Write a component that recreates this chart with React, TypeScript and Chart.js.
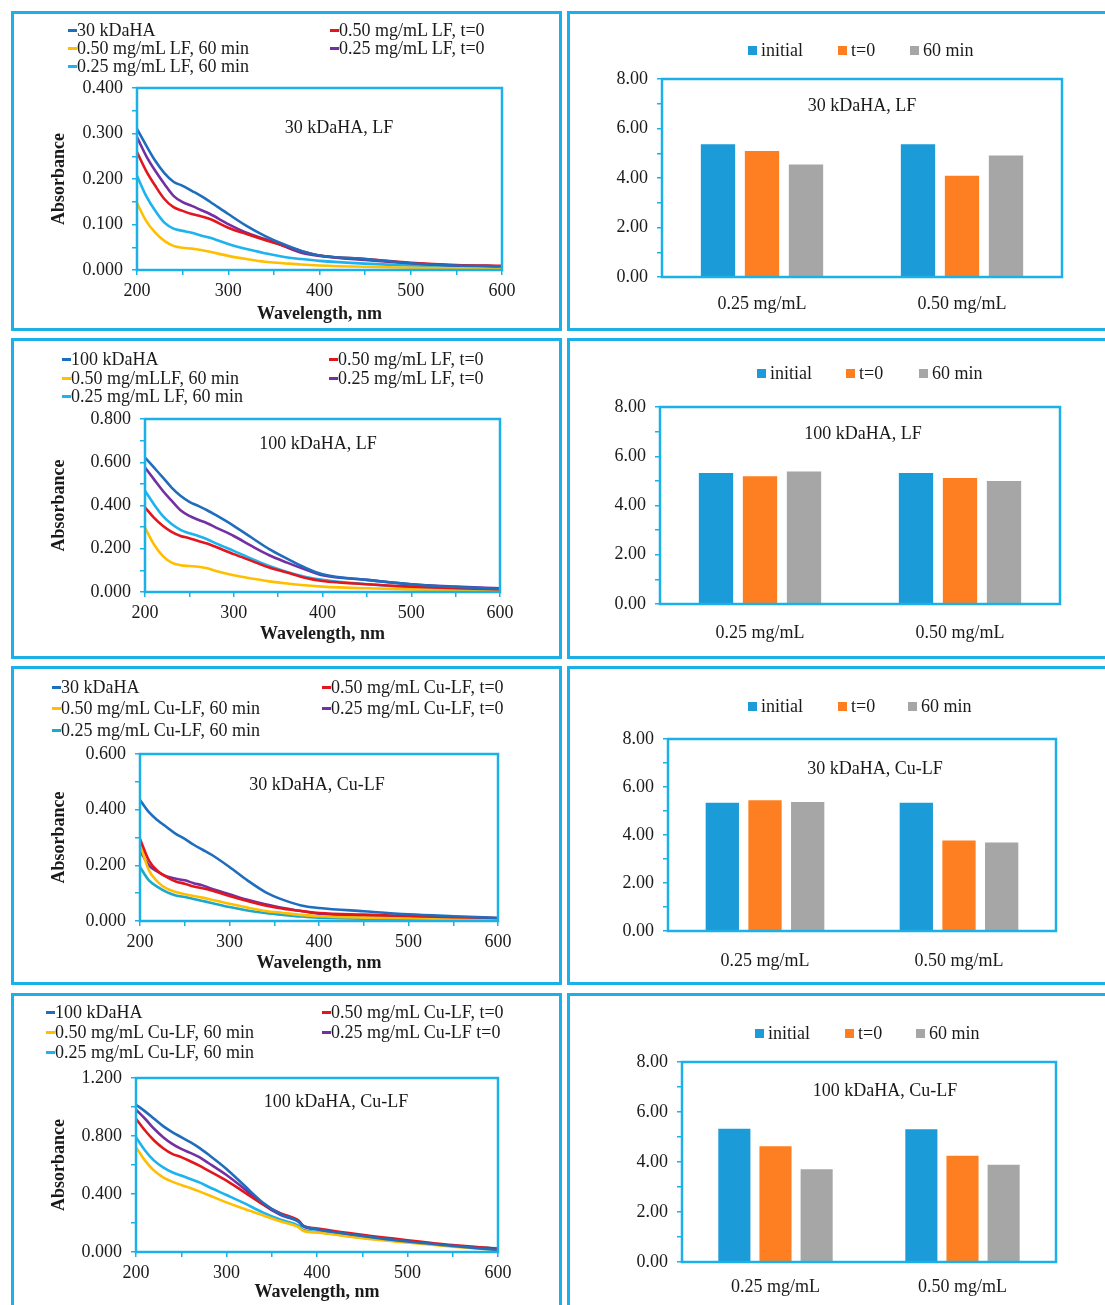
import React, { useEffect, useRef } from "react";
import { Chart, registerables } from "chart.js";

Chart.register(...registerables);

const FONT = "'Liberation Serif', 'Times New Roman', serif";
const FONT_SIZE = 18;
const FRAME = "#1cb0e8";
const TEXT = "#1a1a1a";

// ---- line colours ----
const C_HA = "#1f6dbd";
const C_RED = "#e3151d";
const C_YEL = "#ffbf00";
const C_PUR = "#7330a2";
const C_LBL = "#1db3ee";
const C_TEAL = "#1aa9c9";

// ---- bar colours ----
const C_INITIAL = "#1b9bd7";
const C_T0 = "#fe7f21";
const C_60 = "#a6a6a6";

// ---- wavelengths, nm ----
const wavelengths = [200, 210, 220, 230, 240, 250, 260, 270, 280, 300, 320, 340, 360, 380, 400, 450, 500, 550, 600];
const wavelengthsCu100 = [200, 210, 220, 230, 240, 250, 260, 270, 280, 300, 320, 340, 360, 380, 385, 400, 450, 500, 550, 600];

// ---- 30 kDaHA with LF ----
const ha30 = [0.310, 0.274, 0.240, 0.213, 0.194, 0.185, 0.174, 0.163, 0.150, 0.123, 0.097, 0.075, 0.057, 0.042, 0.032, 0.024, 0.015, 0.010, 0.008];
const lf050t0_30 = [0.259, 0.218, 0.185, 0.156, 0.138, 0.130, 0.123, 0.118, 0.112, 0.093, 0.079, 0.066, 0.054, 0.042, 0.032, 0.024, 0.016, 0.011, 0.009];
const lf050m60_30 = [0.147, 0.108, 0.082, 0.064, 0.053, 0.049, 0.047, 0.044, 0.040, 0.031, 0.024, 0.018, 0.015, 0.012, 0.010, 0.007, 0.005, 0.004, 0.003];
const lf025t0_30 = [0.292, 0.251, 0.218, 0.189, 0.163, 0.149, 0.141, 0.132, 0.123, 0.101, 0.082, 0.068, 0.053, 0.038, 0.031, 0.022, 0.015, 0.010, 0.008];
const lf025m60_30 = [0.207, 0.163, 0.130, 0.104, 0.091, 0.086, 0.082, 0.076, 0.071, 0.057, 0.046, 0.037, 0.029, 0.024, 0.020, 0.014, 0.010, 0.008, 0.007];

// ---- 100 kDaHA with LF ----
const ha100 = [0.622, 0.576, 0.530, 0.483, 0.445, 0.417, 0.398, 0.378, 0.355, 0.306, 0.252, 0.198, 0.154, 0.113, 0.082, 0.056, 0.036, 0.023, 0.015];
const lf050t0_100 = [0.391, 0.344, 0.306, 0.278, 0.259, 0.249, 0.236, 0.224, 0.208, 0.175, 0.144, 0.113, 0.090, 0.066, 0.051, 0.036, 0.025, 0.017, 0.012];
const lf050m60_100 = [0.298, 0.221, 0.167, 0.136, 0.124, 0.120, 0.117, 0.110, 0.097, 0.077, 0.062, 0.049, 0.039, 0.031, 0.025, 0.017, 0.012, 0.009, 0.006];
const lf025t0_100 = [0.576, 0.522, 0.468, 0.422, 0.378, 0.352, 0.334, 0.318, 0.298, 0.259, 0.213, 0.170, 0.136, 0.105, 0.077, 0.056, 0.036, 0.025, 0.017];
const lf025m60_100 = [0.468, 0.406, 0.352, 0.314, 0.287, 0.272, 0.259, 0.244, 0.225, 0.190, 0.154, 0.120, 0.093, 0.071, 0.056, 0.036, 0.023, 0.015, 0.009];

// ---- 30 kDaHA with Cu-LF ----
const ha30Cu = [0.435, 0.391, 0.361, 0.337, 0.313, 0.295, 0.274, 0.256, 0.238, 0.194, 0.146, 0.104, 0.076, 0.056, 0.047, 0.035, 0.024, 0.017, 0.011];
const cu050t0_30 = [0.295, 0.217, 0.179, 0.158, 0.142, 0.134, 0.124, 0.118, 0.110, 0.090, 0.072, 0.056, 0.044, 0.036, 0.029, 0.023, 0.018, 0.014, 0.011];
const cu050m60_30 = [0.277, 0.182, 0.140, 0.116, 0.104, 0.096, 0.090, 0.084, 0.076, 0.062, 0.048, 0.036, 0.029, 0.022, 0.017, 0.012, 0.010, 0.008, 0.008];
const cu025t0_30 = [0.253, 0.200, 0.176, 0.160, 0.152, 0.146, 0.136, 0.128, 0.116, 0.096, 0.076, 0.060, 0.047, 0.036, 0.026, 0.018, 0.014, 0.011, 0.008];
const cu025m60_30 = [0.194, 0.146, 0.122, 0.104, 0.092, 0.086, 0.079, 0.072, 0.065, 0.050, 0.038, 0.029, 0.022, 0.016, 0.012, 0.008, 0.007, 0.006, 0.006];

// ---- 100 kDaHA with Cu-LF ----
const ha100Cu = [1.016, 0.970, 0.919, 0.868, 0.827, 0.792, 0.757, 0.718, 0.672, 0.573, 0.457, 0.342, 0.261, 0.208, 0.180, 0.157, 0.111, 0.072, 0.042, 0.014];
const cu050t0_100 = [0.919, 0.838, 0.769, 0.716, 0.677, 0.654, 0.626, 0.596, 0.561, 0.492, 0.411, 0.330, 0.266, 0.215, 0.180, 0.162, 0.118, 0.081, 0.048, 0.023];
const cu050m60_100 = [0.723, 0.630, 0.561, 0.515, 0.485, 0.462, 0.441, 0.418, 0.393, 0.342, 0.296, 0.254, 0.210, 0.169, 0.145, 0.134, 0.095, 0.065, 0.037, 0.014];
const cu025t0_100 = [0.982, 0.919, 0.850, 0.792, 0.746, 0.711, 0.684, 0.654, 0.614, 0.531, 0.434, 0.330, 0.254, 0.208, 0.176, 0.157, 0.111, 0.072, 0.042, 0.018];
const cu025m60_100 = [0.792, 0.700, 0.630, 0.584, 0.550, 0.527, 0.503, 0.480, 0.450, 0.393, 0.335, 0.273, 0.222, 0.180, 0.152, 0.139, 0.099, 0.069, 0.042, 0.025];

// ---- legend labels ----
const labelsLF30 = ["30 kDaHA", "0.50 mg/mL LF, t=0", "0.50 mg/mL LF, 60 min", "0.25 mg/mL LF, t=0", "0.25 mg/mL LF, 60 min"];
const labelsLF100 = ["100 kDaHA", "0.50 mg/mL LF, t=0", "0.50 mg/mLLF, 60 min", "0.25 mg/mL LF, t=0", "0.25 mg/mL LF, 60 min"];
const labelsCu30 = ["30 kDaHA", "0.50 mg/mL Cu-LF, t=0", "0.50 mg/mL Cu-LF, 60 min", "0.25 mg/mL Cu-LF, t=0", "0.25 mg/mL Cu-LF, 60 min"];
const labelsCu100 = ["100 kDaHA", "0.50 mg/mL Cu-LF, t=0", "0.50 mg/mL Cu-LF, 60 min", "0.25 mg/mL Cu-LF t=0", "0.25 mg/mL Cu-LF, 60 min"];

// ---- bar data (categories: concentration) ----
const concentrations = ["0.25 mg/mL", "0.50 mg/mL"];
const barSeriesNames = ["initial", "t=0", "60 min"];
const lf30Initial = [5.36, 5.36];
const lf30T0 = [5.09, 4.09];
const lf30M60 = [4.55, 4.91];
const lf100Initial = [5.32, 5.32];
const lf100T0 = [5.19, 5.12];
const lf100M60 = [5.38, 4.99];
const cu30Initial = [5.34, 5.34];
const cu30T0 = [5.45, 3.77];
const cu30M60 = [5.38, 3.69];
const cu100Initial = [5.33, 5.31];
const cu100T0 = [4.63, 4.25];
const cu100M60 = [3.71, 3.89];

type Box = { x: number; y: number; w: number; h: number };
type Area = { left: number; top: number; right: number; bottom: number };
type Series = { label: string; color: string; values: number[] };

const tickFont = { family: FONT, size: FONT_SIZE };
const boldFont = { family: FONT, size: FONT_SIZE, weight: "bold" as const };

const isMultiple = (v: number, step: number) => Math.abs(v / step - Math.round(v / step)) < 1e-6;

// outline around the plotting area
const plotFrame = {
  id: "plotFrame",
  afterDatasetsDraw(chart: any) {
    const { ctx, chartArea: a } = chart;
    ctx.save();
    ctx.strokeStyle = FRAME;
    ctx.lineWidth = 2.5;
    ctx.strokeRect(a.left, a.top, a.right - a.left, a.bottom - a.top);
    ctx.restore();
  },
};

function SpectraChart(props: {
  box: Box;
  area: Area;
  xs: number[];
  series: Series[];
  yMax: number;
  yMajor: number;
  yMinor: number;
  xTitlePad: number;
}) {
  const ref = useRef<HTMLCanvasElement>(null);
  const { box, area, xs, series, yMax, yMajor, yMinor, xTitlePad } = props;
  useEffect(() => {
    const chart = new Chart(ref.current!, {
      type: "line",
      data: {
        datasets: series.map((s) => ({
          label: s.label,
          data: xs.map((x, i) => ({ x, y: s.values[i] })),
          borderColor: s.color,
          backgroundColor: s.color,
          borderWidth: 2.6,
          pointRadius: 0,
          cubicInterpolationMode: "monotone" as const,
          fill: false,
        })),
      },
      options: {
        animation: false,
        responsive: false,
        maintainAspectRatio: false,
        events: [],
        layout: { padding: { left: 0, top: area.top - box.y, right: box.x + box.w - area.right, bottom: 0 } },
        plugins: { legend: { display: false }, tooltip: { enabled: false }, title: { display: false } },
        scales: {
          x: {
            type: "linear",
            min: 200,
            max: 600,
            afterFit: (s: any) => {
              s.height = box.y + box.h - area.bottom;
            },
            ticks: {
              stepSize: 50,
              autoSkip: false,
              maxRotation: 0,
              padding: 5,
              font: tickFont,
              color: TEXT,
              callback: (v: any) => (Number(v) % 100 === 0 ? String(v) : ""),
            },
            grid: { drawOnChartArea: false, drawTicks: true, tickLength: 5, color: FRAME, lineWidth: 1.5 },
            border: { display: false },
            title: { display: true, text: "Wavelength, nm", font: boldFont, color: TEXT, padding: { top: 0, bottom: xTitlePad } },
          },
          y: {
            type: "linear",
            min: 0,
            max: yMax,
            afterFit: (s: any) => {
              s.width = area.left - box.x;
            },
            ticks: {
              stepSize: yMinor,
              autoSkip: false,
              padding: 9,
              font: tickFont,
              color: TEXT,
              callback: (v: any) => (isMultiple(Number(v), yMajor) ? Number(v).toFixed(3) : ""),
            },
            grid: { drawOnChartArea: false, drawTicks: true, tickLength: 5, color: FRAME, lineWidth: 1.5 },
            border: { display: false },
            title: { display: true, text: "Absorbance", font: boldFont, color: TEXT, padding: { top: 35, bottom: 0 } },
          },
        },
      },
      plugins: [plotFrame],
    });
    return () => chart.destroy();
  }, []);
  return (
    <canvas
      ref={ref}
      width={box.w}
      height={box.h}
      style={{ position: "absolute", left: box.x, top: box.y, width: box.w, height: box.h }}
    />
  );
}

function BarPanelChart(props: { box: Box; area: Area; initial: number[]; t0: number[]; m60: number[]; catPad: number }) {
  const ref = useRef<HTMLCanvasElement>(null);
  const { box, area, initial, t0, m60, catPad } = props;
  useEffect(() => {
    const chart = new Chart(ref.current!, {
      type: "bar",
      data: {
        labels: concentrations,
        datasets: [
          { label: barSeriesNames[0], data: initial, backgroundColor: C_INITIAL },
          { label: barSeriesNames[1], data: t0, backgroundColor: C_T0 },
          { label: barSeriesNames[2], data: m60, backgroundColor: C_60 },
        ],
      },
      options: {
        animation: false,
        responsive: false,
        maintainAspectRatio: false,
        events: [],
        datasets: { bar: { categoryPercentage: 0.66, barPercentage: 0.78 } },
        layout: { padding: { left: 0, top: area.top - box.y, right: box.x + box.w - area.right, bottom: 0 } },
        plugins: { legend: { display: false }, tooltip: { enabled: false }, title: { display: false } },
        scales: {
          x: {
            type: "category",
            afterFit: (s: any) => {
              s.height = box.y + box.h - area.bottom;
            },
            ticks: { padding: catPad, font: tickFont, color: TEXT, maxRotation: 0 },
            grid: { display: false, drawTicks: false },
            border: { display: false },
          },
          y: {
            type: "linear",
            min: 0,
            max: 8,
            afterFit: (s: any) => {
              s.width = area.left - box.x;
            },
            ticks: {
              stepSize: 1,
              autoSkip: false,
              padding: 9,
              font: tickFont,
              color: TEXT,
              callback: (v: any) => (isMultiple(Number(v), 2) ? Number(v).toFixed(2) : ""),
            },
            grid: { drawOnChartArea: false, drawTicks: true, tickLength: 5, color: FRAME, lineWidth: 1.5 },
            border: { display: false },
          },
        },
      },
      plugins: [plotFrame],
    });
    return () => chart.destroy();
  }, []);
  return (
    <canvas
      ref={ref}
      width={box.w}
      height={box.h}
      style={{ position: "absolute", left: box.x, top: box.y, width: box.w, height: box.h }}
    />
  );
}

function Frame({ x, y, w, h }: { x: number; y: number; w: number; h: number }) {
  return (
    <div
      style={{
        position: "absolute",
        left: x,
        top: y,
        width: w,
        height: h,
        border: `3px solid ${FRAME}`,
        boxSizing: "border-box",
        pointerEvents: "none",
      }}
    />
  );
}

function Label({ x, y, text }: { x: number; y: number; text: string }) {
  return (
    <div
      style={{
        position: "absolute",
        left: x,
        top: y,
        transform: "translate(-50%, -50%)",
        font: `${FONT_SIZE}px ${FONT}`,
        color: TEXT,
        whiteSpace: "nowrap",
        lineHeight: 1,
      }}
    >
      {text}
    </div>
  );
}

function LineKey({ x, y, color, text }: { x: number; y: number; color: string; text: string }) {
  return (
    <div
      style={{
        position: "absolute",
        left: x,
        top: y,
        transform: "translateY(-50%)",
        display: "flex",
        alignItems: "center",
        font: `${FONT_SIZE}px ${FONT}`,
        color: TEXT,
        whiteSpace: "nowrap",
        lineHeight: 1,
      }}
    >
      <span style={{ display: "inline-block", width: 9, height: 3, background: color }} />
      <span>{text}</span>
    </div>
  );
}

function BoxKey({ x, y, color, text }: { x: number; y: number; color: string; text: string }) {
  return (
    <div
      style={{
        position: "absolute",
        left: x,
        top: y,
        transform: "translateY(-50%)",
        display: "flex",
        alignItems: "center",
        font: `${FONT_SIZE}px ${FONT}`,
        color: TEXT,
        whiteSpace: "nowrap",
        lineHeight: 1,
      }}
    >
      <span style={{ display: "inline-block", width: 9, height: 9, background: color, marginRight: 4 }} />
      <span>{text}</span>
    </div>
  );
}

function SpectraPanel(props: {
  box: Box;
  area: Area;
  xs: number[];
  values: number[][];
  colors: string[];
  labels: string[];
  yMax: number;
  yMajor: number;
  yMinor: number;
  xTitlePad: number;
  keyCols: number[];
  keyRows: number[];
  title: string;
  titleAt: [number, number];
}) {
  const { box, area, xs, values, colors, labels, keyCols, keyRows, title, titleAt } = props;
  const series: Series[] = labels.map((label, i) => ({ label, color: colors[i], values: values[i] }));
  // legend order: two columns, filled row by row
  const slots = [
    [keyCols[0], keyRows[0]],
    [keyCols[1], keyRows[0]],
    [keyCols[0], keyRows[1]],
    [keyCols[1], keyRows[1]],
    [keyCols[0], keyRows[2]],
  ];
  return (
    <>
      <SpectraChart
        box={box}
        area={area}
        xs={xs}
        series={series}
        yMax={props.yMax}
        yMajor={props.yMajor}
        yMinor={props.yMinor}
        xTitlePad={props.xTitlePad}
      />
      {series.map((s, i) => (
        <LineKey key={s.label + i} x={slots[i][0]} y={slots[i][1]} color={s.color} text={s.label} />
      ))}
      <Label x={titleAt[0]} y={titleAt[1]} text={title} />
    </>
  );
}

function BarPanel(props: {
  box: Box;
  area: Area;
  initial: number[];
  t0: number[];
  m60: number[];
  catPad: number;
  keyY: number;
  keyXs: number[];
  title: string;
  titleAt: [number, number];
}) {
  const { keyY, keyXs, title, titleAt } = props;
  const colors = [C_INITIAL, C_T0, C_60];
  return (
    <>
      <BarPanelChart
        box={props.box}
        area={props.area}
        initial={props.initial}
        t0={props.t0}
        m60={props.m60}
        catPad={props.catPad}
      />
      {barSeriesNames.map((n, i) => (
        <BoxKey key={n} x={keyXs[i]} y={keyY} color={colors[i]} text={n} />
      ))}
      <Label x={titleAt[0]} y={titleAt[1]} text={title} />
    </>
  );
}

const lineColors = [C_HA, C_RED, C_YEL, C_PUR, C_LBL];
const lineColorsCu30 = [C_HA, C_RED, C_YEL, C_PUR, C_TEAL];

export default function App() {
  return (
    <div
      style={{
        position: "absolute",
        left: 0,
        top: 0,
        width: 1105,
        height: 1305,
        overflow: "hidden",
        background: "#ffffff",
        fontFamily: FONT,
      }}
    >
      <SpectraPanel
        box={{ x: 14, y: 14, w: 545, h: 315 }}
        area={{ left: 137, top: 88, right: 502, bottom: 270 }}
        xs={wavelengths}
        values={[ha30, lf050t0_30, lf050m60_30, lf025t0_30, lf025m60_30]}
        colors={lineColors}
        labels={labelsLF30}
        yMax={0.4}
        yMajor={0.1}
        yMinor={0.05}
        xTitlePad={4}
        keyCols={[68, 330]}
        keyRows={[30, 48, 66]}
        title="30 kDaHA, LF"
        titleAt={[339, 127]}
      />
      <SpectraPanel
        box={{ x: 14, y: 341, w: 545, h: 316 }}
        area={{ left: 145, top: 419, right: 500, bottom: 592 }}
        xs={wavelengths}
        values={[ha100, lf050t0_100, lf050m60_100, lf025t0_100, lf025m60_100]}
        colors={lineColors}
        labels={labelsLF100}
        yMax={0.8}
        yMajor={0.2}
        yMinor={0.1}
        xTitlePad={12}
        keyCols={[62, 329]}
        keyRows={[359, 378, 396]}
        title="100 kDaHA, LF"
        titleAt={[318, 443]}
      />
      <SpectraPanel
        box={{ x: 14, y: 669, w: 545, h: 315 }}
        area={{ left: 140, top: 754, right: 498, bottom: 921 }}
        xs={wavelengths}
        values={[ha30Cu, cu050t0_30, cu050m60_30, cu025t0_30, cu025m60_30]}
        colors={lineColorsCu30}
        labels={labelsCu30}
        yMax={0.6}
        yMajor={0.2}
        yMinor={0.1}
        xTitlePad={10}
        keyCols={[52, 322]}
        keyRows={[687, 708, 730]}
        title="30 kDaHA, Cu-LF"
        titleAt={[317, 784]}
      />
      <SpectraPanel
        box={{ x: 14, y: 996, w: 545, h: 309 }}
        area={{ left: 136, top: 1078, right: 498, bottom: 1252 }}
        xs={wavelengthsCu100}
        values={[ha100Cu, cu050t0_100, cu050m60_100, cu025t0_100, cu025m60_100]}
        colors={lineColors}
        labels={labelsCu100}
        yMax={1.2}
        yMajor={0.4}
        yMinor={0.2}
        xTitlePad={2}
        keyCols={[46, 322]}
        keyRows={[1012, 1032, 1052]}
        title="100 kDaHA, Cu-LF"
        titleAt={[336, 1101]}
      />

      <BarPanel
        box={{ x: 570, y: 14, w: 535, h: 315 }}
        area={{ left: 662, top: 79, right: 1062, bottom: 277 }}
        initial={lf30Initial}
        t0={lf30T0}
        m60={lf30M60}
        catPad={16}
        keyY={50}
        keyXs={[748, 838, 910]}
        title="30 kDaHA, LF"
        titleAt={[862, 105]}
      />
      <BarPanel
        box={{ x: 570, y: 341, w: 535, h: 316 }}
        area={{ left: 660, top: 407, right: 1060, bottom: 604 }}
        initial={lf100Initial}
        t0={lf100T0}
        m60={lf100M60}
        catPad={18}
        keyY={373}
        keyXs={[757, 846, 919]}
        title="100 kDaHA, LF"
        titleAt={[863, 433]}
      />
      <BarPanel
        box={{ x: 570, y: 669, w: 535, h: 315 }}
        area={{ left: 668, top: 739, right: 1056, bottom: 931 }}
        initial={cu30Initial}
        t0={cu30T0}
        m60={cu30M60}
        catPad={19}
        keyY={706}
        keyXs={[748, 838, 908]}
        title="30 kDaHA, Cu-LF"
        titleAt={[875, 768]}
      />
      <BarPanel
        box={{ x: 570, y: 996, w: 535, h: 309 }}
        area={{ left: 682, top: 1062, right: 1056, bottom: 1262 }}
        initial={cu100Initial}
        t0={cu100T0}
        m60={cu100M60}
        catPad={14}
        keyY={1033}
        keyXs={[755, 845, 916]}
        title="100 kDaHA, Cu-LF"
        titleAt={[885, 1090]}
      />

      <Frame x={11} y={11} w={551} h={320} />
      <Frame x={567} y={11} w={545} h={320} />
      <Frame x={11} y={338} w={551} h={321} />
      <Frame x={567} y={338} w={545} h={321} />
      <Frame x={11} y={666} w={551} h={319} />
      <Frame x={567} y={666} w={545} h={319} />
      <Frame x={11} y={993} w={551} h={320} />
      <Frame x={567} y={993} w={545} h={320} />
    </div>
  );
}
